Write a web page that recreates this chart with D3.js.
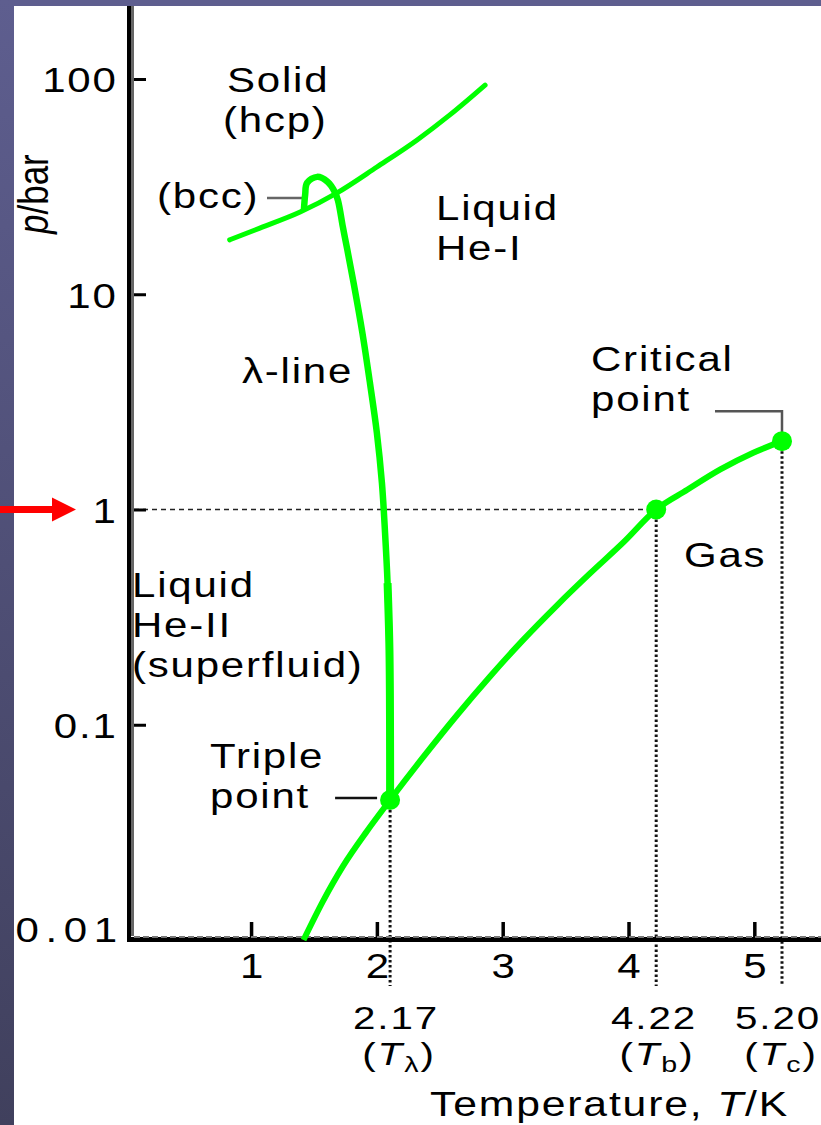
<!DOCTYPE html>
<html>
<head>
<meta charset="utf-8">
<script src="https://cdn.jsdelivr.net/npm/d3@7/dist/d3.min.js"></script>
<style>
  body { margin: 0; background: #fff; }
  svg text { font-family: "Liberation Sans", Arial, Helvetica, sans-serif; fill: #000; }
</style>
</head>
<body>
<div id="chart"></div>
<script>
// phase diagram of helium-4
var vaporT = [1.417, 1.573, 1.732, 1.922, 2.105, 2.368, 2.638, 2.901, 3.163, 3.434, 3.696, 3.959, 4.22, 4.467, 4.73, 4.992, 5.22];
var vaporP = [0.0100, 0.0152, 0.0221, 0.0321, 0.0447, 0.0707, 0.111, 0.168, 0.248, 0.360, 0.506, 0.703, 1.00, 1.235, 1.535, 1.836, 2.078];

// lambda line, running up from the triple point and over the bcc loop
var lambdaT = [2.105, 2.105, 2.10, 2.085, 2.065, 2.04, 2.00, 1.945, 1.885, 1.815, 1.765, 1.73, 1.69, 1.665, 1.61, 1.525, 1.445, 1.43, 1.42];
var lambdaP = [0.0447, 0.076, 0.222, 0.455, 0.778, 1.33, 2.27, 3.87, 6.61, 11.3, 16.1, 20.5, 27.4, 29.9, 33.2, 35.1, 32.9, 29.0, 24.6];

// melting curve (solid / liquid)
var meltT = [0.83, 1.07, 1.39, 1.68, 2.00, 2.32, 2.58, 2.86];
var meltP = [17.9, 20.3, 24.1, 29.5, 39.0, 52.1, 68.1, 93.7];

// triple point, normal boiling point, critical point
var keyT = [2.105, 4.22, 5.22];
var keyP = [0.0447, 1.0, 2.078];
var keyLabels = ["2.17", "4.22", "5.20"];
var keySubs = ["\u03bb", "b", "c"];

var xTicks = [1, 2, 3, 4, 5];
var yTicks = [0.01, 0.1, 1, 10, 100];
var yTickLabels = ["0.01", "0.1", "1", "10", "100"];

var W = 821, H = 1125;
var green = "#00ff00";
var SX = 1.2;   // text in the picture is stretched sideways
var FS = 35;
var FONT = "'Liberation Sans', Arial, Helvetica, sans-serif";

var svg = d3.select("#chart").append("svg")
    .attr("width", W)
    .attr("height", H)
    .attr("font-family", FONT);

// purple frame at left / top
var grad = svg.append("defs").append("linearGradient")
    .attr("id", "frame").attr("x1", 0).attr("y1", 0).attr("x2", 0).attr("y2", 1);
grad.append("stop").attr("offset", "0%").attr("stop-color", "#5e5e8f");
grad.append("stop").attr("offset", "100%").attr("stop-color", "#40405d");
svg.append("rect").attr("x", 0).attr("y", 0).attr("width", W).attr("height", 6).attr("fill", "#5e5e8f");
svg.append("rect").attr("x", 0).attr("y", 0).attr("width", 14).attr("height", H).attr("fill", "url(#frame)");

var x = d3.scaleLinear().domain([0, 5.53]).range([125.25, 821]);
var y = d3.scaleLog().domain([0.01, 100]).range([940, 79]);
var x0 = 130;

// dotted guide lines
svg.append("line")
    .attr("x1", x0 + 4).attr("x2", x(keyT[1]))
    .attr("y1", y(1)).attr("y2", y(1))
    .attr("stroke", "#222").attr("stroke-width", 1.5)
    .attr("stroke-dasharray", "5,4");

svg.selectAll(".drop")
  .data(keyT)
  .enter().append("line")
    .attr("class", "drop")
    .attr("x1", function(d) { return x(d); })
    .attr("x2", function(d) { return x(d); })
    .attr("y1", function(d, i) { return y(keyP[i]); })
    .attr("y2", 986)
    .attr("stroke", "#111").attr("stroke-width", 3)
    .attr("stroke-dasharray", "2.5,2.5");

// axes
var yAxis = d3.axisLeft(y)
    .tickValues(yTicks)
    .tickFormat(function(d, i) { return yTickLabels[i]; })
    .tickSizeInner(-14)
    .tickSizeOuter(0)
    .tickPadding(12);

var gy = svg.append("g")
    .attr("transform", "translate(" + (x0 + 2) + ",0)")
    .call(yAxis);
gy.select(".domain").remove();
gy.selectAll(".tick line").attr("stroke", "#000").attr("stroke-width", 3);
gy.selectAll(".tick text")
    .attr("font-size", FS)
    .attr("font-family", FONT)
    .attr("dy", "0.37em")
    .attr("letter-spacing", 1.5)
    .attr("transform", "scale(" + SX + ",1)")
    .attr("fill", "#000");
// the bottom label sits on the x axis and is spread out wider
gy.selectAll(".tick text")
  .filter(function(d) { return d === 0.01; })
    .attr("dy", 1)
    .attr("dx", 5)
    .attr("letter-spacing", 5.5);

var xAxis = d3.axisBottom(x)
    .tickValues(xTicks)
    .tickFormat(d3.format("d"))
    .tickSizeInner(-16)
    .tickSizeOuter(0)
    .tickPadding(15);

var gx = svg.append("g")
    .attr("transform", "translate(0," + 938 + ")")
    .call(xAxis);
gx.select(".domain").remove();
gx.selectAll(".tick line").attr("stroke", "#000").attr("stroke-width", 3.5);
gx.selectAll(".tick text")
    .attr("font-size", FS)
    .attr("font-family", FONT)
    .attr("transform", "scale(" + SX + ",1)")
    .attr("fill", "#000");

// axis lines
svg.append("line").attr("x1", x0 - 1).attr("x2", x0 - 1).attr("y1", 6).attr("y2", 942)
    .attr("stroke", "#000").attr("stroke-width", 4);
svg.append("line").attr("x1", x0 + 2.5).attr("x2", x0 + 2.5).attr("y1", 6).attr("y2", 936)
    .attr("stroke", "#666").attr("stroke-width", 3);
svg.append("line").attr("x1", x0 - 3).attr("x2", W).attr("y1", 939.5).attr("y2", 939.5)
    .attr("stroke", "#000").attr("stroke-width", 5);
svg.append("line").attr("x1", x0 + 4).attr("x2", W).attr("y1", 937).attr("y2", 937)
    .attr("stroke", "#777").attr("stroke-width", 2).attr("stroke-dasharray", "6,3");

// leader lines
svg.append("line")
    .attr("x1", 267).attr("x2", x(1.43)).attr("y1", 198).attr("y2", 198)
    .attr("stroke", "#666").attr("stroke-width", 2.5);
svg.append("line")
    .attr("x1", x(keyT[0]) - 55).attr("x2", x(keyT[0]) - 13)
    .attr("y1", y(keyP[0]) - 2).attr("y2", y(keyP[0]) - 2)
    .attr("stroke", "#111").attr("stroke-width", 2.5);
svg.append("path")
    .attr("d", "M" + (x(keyT[2]) - 67) + "," + (y(keyP[2]) - 30) +
               "H" + x(keyT[2]) + "V" + (y(keyP[2]) - 7))
    .attr("fill", "none").attr("stroke", "#555").attr("stroke-width", 2.5);

// phase boundaries
function series(ts, ps) {
  return ts.map(function(t, i) { return [t, ps[i]]; });
}
var smooth = d3.line()
    .x(function(d) { return x(d[0]); })
    .y(function(d) { return y(d[1]); })
    .curve(d3.curveMonotoneX);
var loop = d3.line()
    .x(function(d) { return x(d[0]); })
    .y(function(d) { return y(d[1]); })
    .curve(d3.curveCatmullRom.alpha(0.5));

svg.append("path")
    .datum(series(meltT, meltP))
    .attr("d", smooth)
    .attr("fill", "none").attr("stroke", green).attr("stroke-width", 5)
    .attr("stroke-linecap", "round");

svg.append("path")
    .datum(series(vaporT, vaporP))
    .attr("d", smooth)
    .attr("fill", "none").attr("stroke", green).attr("stroke-width", 6);

svg.append("path")
    .datum(series(lambdaT, lambdaP))
    .attr("d", loop)
    .attr("fill", "none").attr("stroke", green).attr("stroke-width", 6.5)
    .attr("stroke-linejoin", "round");
// lower part of the lambda line is drawn heavier
svg.append("path")
    .datum(series(lambdaT.slice(0, 4), lambdaP.slice(0, 4)))
    .attr("d", loop)
    .attr("fill", "none").attr("stroke", green).attr("stroke-width", 8);

svg.selectAll(".key")
  .data(keyT)
  .enter().append("circle")
    .attr("class", "key")
    .attr("cx", function(d) { return x(d); })
    .attr("cy", function(d, i) { return y(keyP[i]); })
    .attr("r", 10)
    .attr("fill", green);

// red arrow pointing at 1 bar
svg.append("path")
    .attr("d", "M0," + (y(1) - 3.5) + "H52V" + (y(1) - 12) + "L76," + y(1) +
               "L52," + (y(1) + 12) + "V" + (y(1) + 3.5) + "H0Z")
    .attr("fill", "#ff0000");

// text labels
function label(px, py, parts, anchor, fs, sx) {
  var t = svg.append("text")
      .attr("transform", "translate(" + px + "," + py + ") scale(" + (sx || SX) + ",1)")
      .attr("text-anchor", anchor || "start")
      .attr("font-family", FONT)
      .attr("font-size", fs || FS)
      .attr("letter-spacing", 1.5);
  if (typeof parts === "string") parts = [parts];
  parts.forEach(function(p) {
    if (typeof p === "string") { t.append("tspan").text(p); return; }
    var s = t.append("tspan").text(p.t);
    if (p.i) s.attr("font-style", "italic");
    if (p.sub) s.attr("font-size", 22).attr("dy", 7);
    if (p.up) s.attr("dy", -7);
  });
  return t;
}

label(227, 92, "Solid");
label(223, 132, "(hcp)");
label(157, 208, "(bcc)");
label(436, 220, "Liquid");
label(436, 260, "He-I");
label(242, 383, "\u03bb-line");
label(591, 371, "Critical");
label(591, 411, "point");
label(684, 567, "Gas");
label(132, 597, "Liquid");
label(132, 637, "He-II");
label(132, 677, "(superfluid)");
label(210, 768, "Triple");
label(210, 808, "point");

keyLabels.forEach(function(s, i) {
  var cx = [396, 654, 778][i];
  label(cx, 1029, s, "middle", 31, 1.3);
  label(cx + 3, 1065, ["(", {t: "T", i: true}, {t: keySubs[i], sub: true}, {t: ")", up: true}], "middle", 31, 1.3);
});

label(430, 1116, ["Temperature, ", {t: "T", i: true}, "/K"], "start", FS, 1.22);

// rotated y title
svg.append("text")
    .attr("transform", "translate(48,234) scale(" + SX + ",1) rotate(-90)")
    .attr("font-family", FONT)
    .attr("font-size", FS)
    .call(function(t) {
      t.append("tspan").attr("font-style", "italic").text("p");
      t.append("tspan").text("/bar");
    });
</script>
</body>
</html>
